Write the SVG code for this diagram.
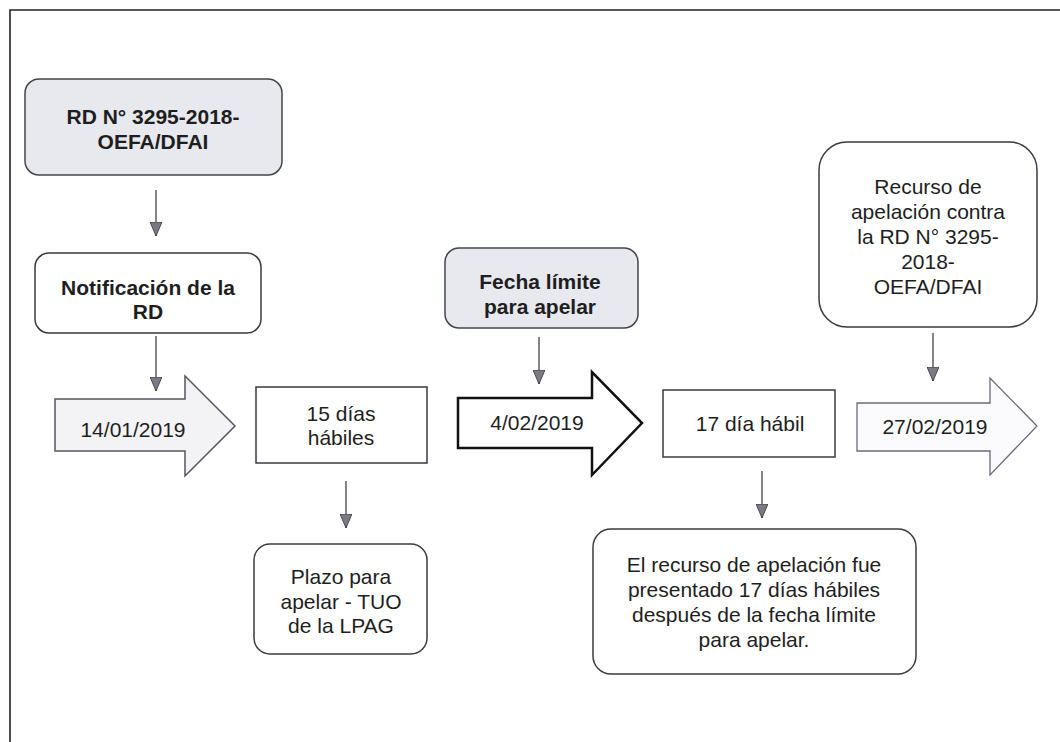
<svg xmlns="http://www.w3.org/2000/svg" width="1060" height="742" viewBox="0 0 1060 742">
  <defs>
    <marker id="ah" viewBox="0 0 14 12" refX="14" refY="6" markerWidth="14" markerHeight="12" markerUnits="userSpaceOnUse" orient="auto">
      <path d="M0,0 L14,6 L0,12 z" fill="#7a7a85" stroke="#333" stroke-width="0.8"/>
    </marker>
  </defs>
  <style>
    .t { font-family: "Liberation Sans", Arial, sans-serif; font-size: 21px; fill: #1e1e1e; text-anchor: middle; }
    .b { font-weight: bold; font-size: 21px; }
    .box { fill: #ffffff; stroke: #3a3a44; stroke-width: 1.5; }
    .gray { fill: #e8e8ef; stroke: #44444e; stroke-width: 1.5; }
    .conn { stroke: #333; stroke-width: 1.2; fill: none; marker-end: url(#ah); }
    .frame { stroke: #222; stroke-width: 1.6; fill: none; }
  </style>
  <rect width="1060" height="742" fill="#ffffff"/>
  <path class="frame" d="M10,742 L10,10 L1060,10"/>

  <g id="n-rd">
    <rect class="gray" x="25" y="79" width="257" height="96" rx="14"/>
    <text class="t b" x="153" y="124">RD N° 3295-2018-</text>
    <text class="t b" x="153" y="149">OEFA/DFAI</text>
  </g>

  <g id="n-notif">
    <rect class="box" x="35" y="253" width="226" height="80" rx="14"/>
    <text class="t b" x="148" y="295">Notificación de la</text>
    <text class="t b" x="148" y="319">RD</text>
  </g>

  <g id="n-d1">
    <polygon points="55,399 185,399 185,376 235,426 185,476 185,451 55,451" fill="#f3f3f6" stroke="#55555f" stroke-width="1.5"/>
    <text class="t" x="133" y="437">14/01/2019</text>
  </g>

  <g id="n-15">
    <rect class="box" x="256" y="387" width="171" height="76"/>
    <text class="t" x="341" y="421">15 días</text>
    <text class="t" x="341" y="445">hábiles</text>
  </g>

  <g id="n-plazo">
    <rect class="box" x="254" y="544" width="173" height="110" rx="16"/>
    <text class="t" x="341" y="584">Plazo para</text>
    <text class="t" x="341" y="609">apelar - TUO</text>
    <text class="t" x="341" y="633">de la LPAG</text>
  </g>

  <g id="n-fecha">
    <rect class="gray" x="445" y="248" width="193" height="80" rx="14"/>
    <text class="t b" x="540" y="289">Fecha límite</text>
    <text class="t b" x="540" y="314">para apelar</text>
  </g>

  <g id="n-d2">
    <polygon points="458,398 592,398 592,372 642,423 592,475 592,448 458,448" fill="#ffffff" stroke="#111" stroke-width="2.5"/>
    <text class="t" x="537" y="430">4/02/2019</text>
  </g>

  <g id="n-17">
    <rect class="box" x="663" y="390" width="172" height="67"/>
    <text class="t" x="750" y="431">17 día hábil</text>
  </g>

  <g id="n-nota">
    <rect class="box" x="593" y="529" width="323" height="145" rx="18"/>
    <text class="t" x="754" y="572">El recurso de apelación fue</text>
    <text class="t" x="754" y="597">presentado 17 días hábiles</text>
    <text class="t" x="754" y="622">después de la fecha límite</text>
    <text class="t" x="754" y="647">para apelar.</text>
  </g>

  <g id="n-recurso">
    <rect class="box" x="819" y="142" width="218" height="185" rx="28"/>
    <text class="t" x="928" y="194">Recurso de</text>
    <text class="t" x="928" y="219">apelación contra</text>
    <text class="t" x="928" y="244">la RD N° 3295-</text>
    <text class="t" x="928" y="269">2018-</text>
    <text class="t" x="928" y="294">OEFA/DFAI</text>
  </g>

  <g id="n-d3">
    <polygon points="857,403 990,403 990,378 1037,426 990,475 990,451 857,451" fill="#fbfbfd" stroke="#6a6a80" stroke-width="1.3"/>
    <text class="t" x="935" y="434">27/02/2019</text>
  </g>

  <g id="connectors">
    <line class="conn" x1="156" y1="190" x2="156" y2="236"/>
    <line class="conn" x1="156" y1="336" x2="156" y2="391"/>
    <line class="conn" x1="346" y1="481" x2="346" y2="528"/>
    <line class="conn" x1="539" y1="337" x2="539" y2="384"/>
    <line class="conn" x1="762" y1="471" x2="762" y2="518"/>
    <line class="conn" x1="933" y1="333" x2="933" y2="381"/>
  </g>
</svg>
